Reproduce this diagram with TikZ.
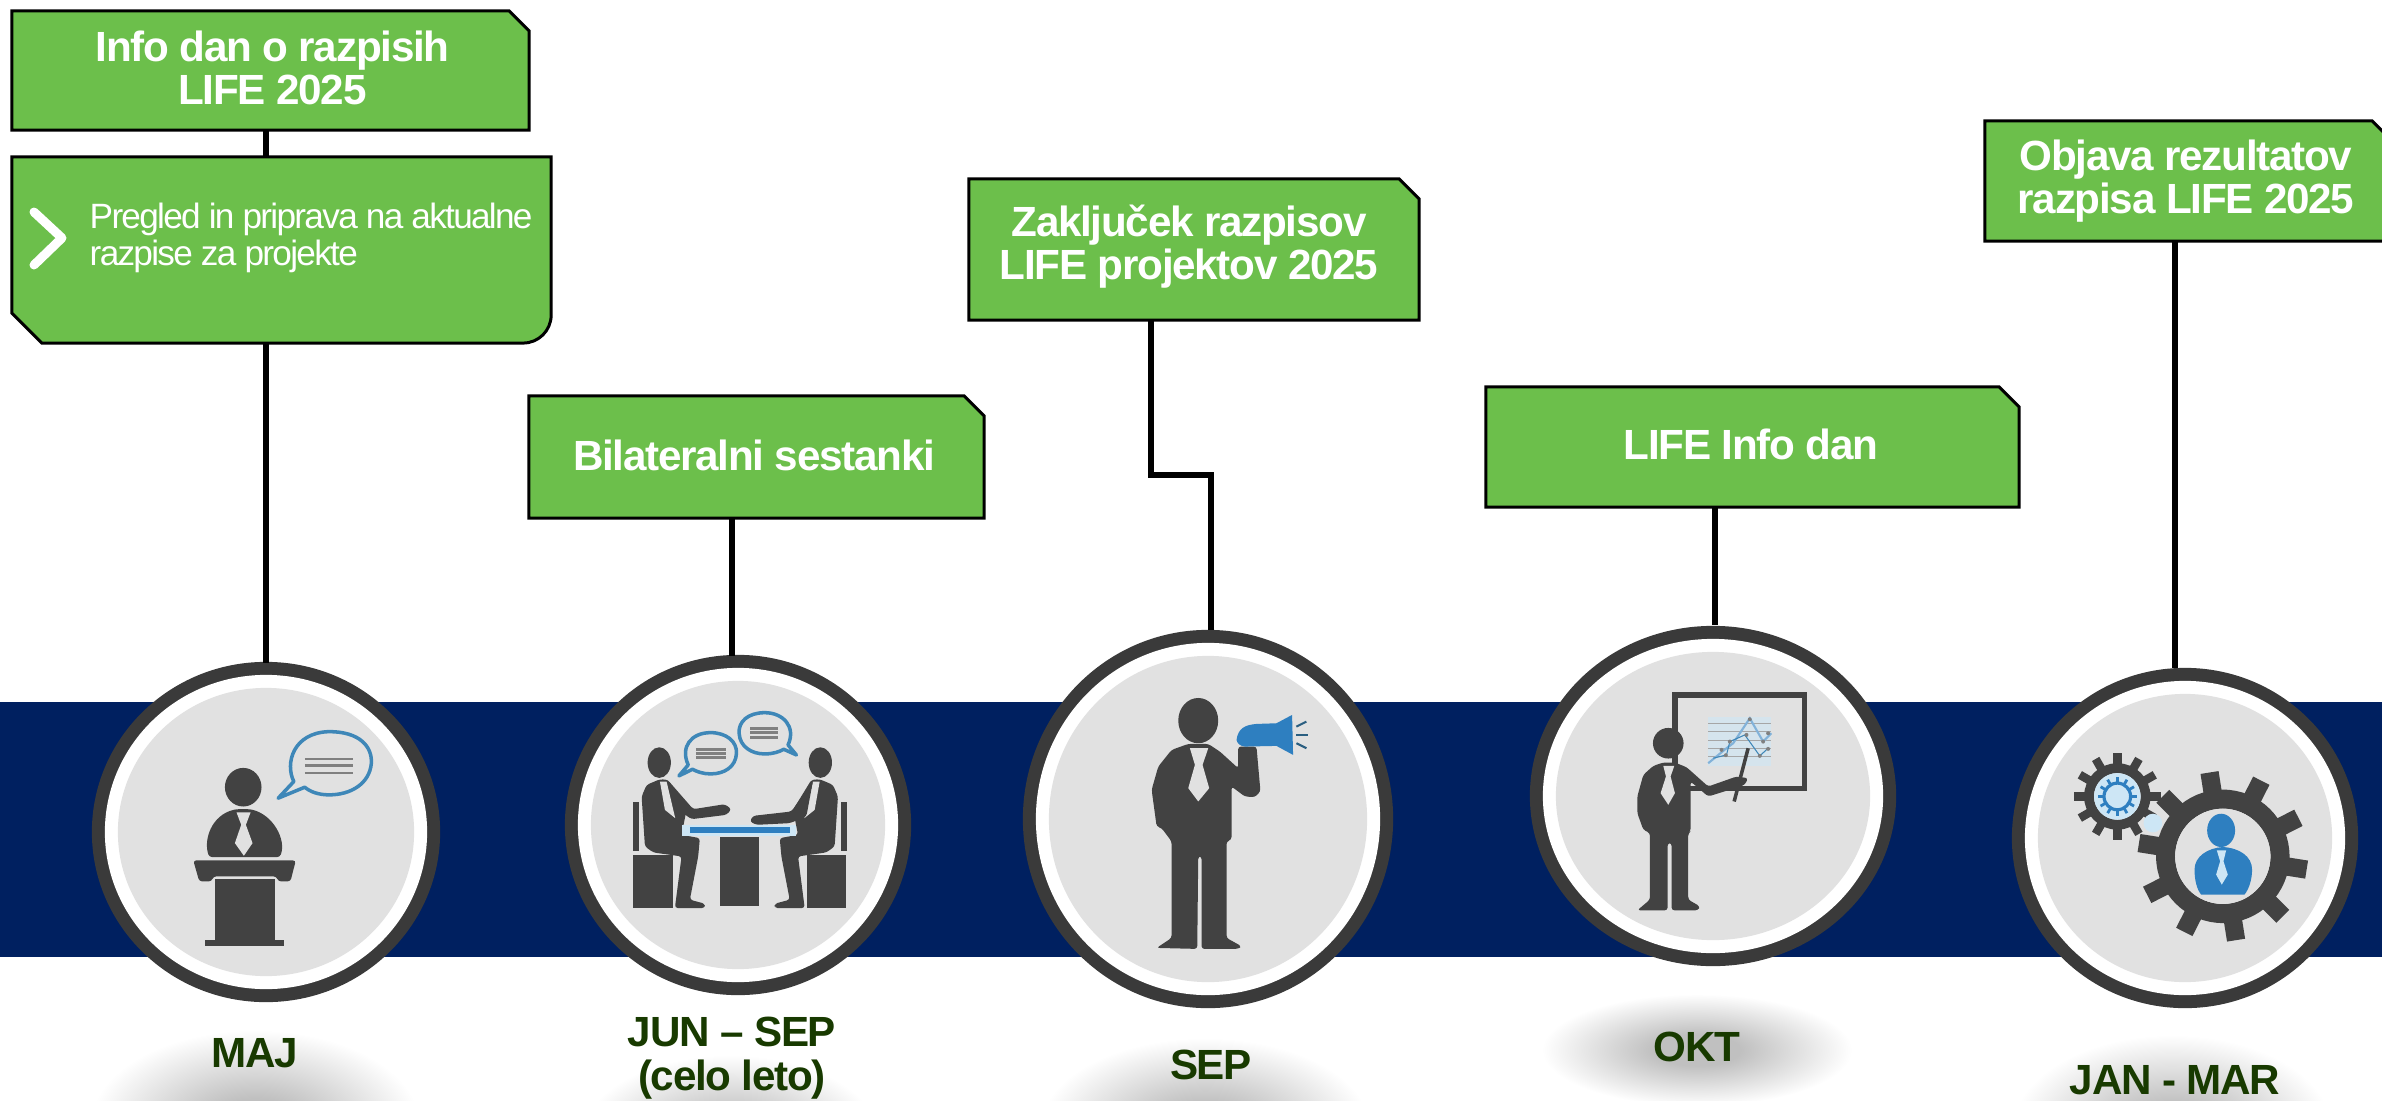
\documentclass[tikz,border=0pt]{standalone}
\usepackage{fontspec}
\setmainfont{Liberation Sans}[LetterSpace=-3]
\usepackage{xcolor}
\usetikzlibrary{shapes.geometric, calc}

\definecolor{lifegreen}{RGB}{108,191,75}
\definecolor{bandnavy}{RGB}{0,32,96}
\definecolor{ringdark}{RGB}{58,58,58}
\definecolor{podgrey}{RGB}{225,225,225}
\definecolor{icondark}{RGB}{66,66,66}
\definecolor{iconblue}{RGB}{46,127,192}
\definecolor{bubbleblue}{RGB}{62,135,184}
\definecolor{iconpale}{RGB}{205,230,245}
\definecolor{monthgreen}{RGB}{24,58,0}
\definecolor{shadowgrey}{RGB}{192,192,192}

\pgfdeclareradialshading{shadowfade}{\pgfpoint{0bp}{0bp}}{color(0bp)=(shadowgrey); color(7bp)=(shadowgrey); color(25bp)=(white); color(50bp)=(white)}

\tikzset{
    lifebox/.style={inner sep=0pt, outer sep=0pt},
    boxoutline/.style={fill=lifegreen, draw=black, line width=0.85pt},
    boxtext/.style={text=white, align=center, inner sep=0pt,
        font=\fontsize{12}{12.2}\selectfont\bfseries},
    stem/.style={draw=black, line width=1.7pt},
    podnode/.style={ellipse, inner sep=0pt, outer sep=0pt},
    monthlabel/.style={text=monthgreen, align=center, inner sep=0pt,
        font=\fontsize{12}{12.4}\selectfont\bfseries},
    icon/.style={fill=icondark, rounded corners=0.8pt},
    bubble/.style={draw=bubbleblue, line width=1pt, fill=podgrey, line join=round},
    bubbletext/.style={draw=gray, line width=0.7pt}
}

\begin{document}
\begin{tikzpicture}[x=0.01cm,y=-0.01cm]
    \useasboundingbox (0,0) rectangle (2382,1100);
    \clip (0,0) rectangle (2382,1100);

    % shadows under the months
    \foreach \sx/\sy/\srx/\sry in {255/1125/165/95, 730/1140/150/85, 1205/1128/165/90, 1697/1050/155/56, 2172/1130/160/95}
        \shade[shading=shadowfade] (\sx,\sy) ellipse [x radius=\srx, y radius=\sry];

    % band
    \fill[bandnavy] (0,702) rectangle (2382,957);

    % boxes
    \node[lifebox, minimum width=5.17cm, minimum height=1.19cm] (info) at (270.5,70.5) {};
    \node[lifebox, minimum width=4.55cm, minimum height=1.22cm] (bilat) at (756.5,457) {};
    \node[lifebox, minimum width=4.50cm, minimum height=1.41cm] (zakljucek) at (1194,249.5) {};
    \node[lifebox, minimum width=5.33cm, minimum height=1.20cm] (infodan) at (1752.5,447) {};
    \node[lifebox, minimum width=4.07cm, minimum height=1.20cm] (objava) at (2188.5,181) {};
    \node[lifebox, minimum width=5.39cm, minimum height=1.86cm] (pregled) at (281.5,250) {};
    \foreach \boxname in {info,bilat,zakljucek,infodan,objava}
        \draw[boxoutline] (\boxname.north west) -- ($(\boxname.north east)+(-20,0)$) -- ($(\boxname.north east)+(0,20)$)
            -- (\boxname.south east) -- (\boxname.south west) -- cycle;
    \draw[boxoutline]
        (pregled.north west) -- (pregled.north east)
        -- ($(pregled.south east)+(0,-28)$) arc [start angle=0, end angle=90, x radius=28, y radius=28]
        -- ($(pregled.south west)+(30,0)$) -- ($(pregled.south west)+(0,-30)$) -- cycle;
    \draw[white, line width=0.09cm, line cap=round, line join=round] (34,212) -- (62,238) -- (34,265);
    \node[boxtext] (infotext) at (272.5,67.5) {Info dan o razpisih\\LIFE 2025};
    \node[anchor=west, align=left, text=white, inner sep=0pt, font=\fontsize{10}{10.6}\selectfont\addfontfeatures{LetterSpace=-4.8}] (pregledtext) at (89,238) {Pregled in priprava na aktualne\\razpise za projekte};
    \node[boxtext] (bilattext) at (754,455.5) {Bilateralni sestanki};
    \node[boxtext] (zakljucektext) at (1189,246.5) {Zaključek razpisov\\LIFE projektov 2025};
    \node[boxtext] (infodantext) at (1751,444) {LIFE Info dan};
    \node[boxtext] (objavatext) at (2186,181) {Objava rezultatov\\razpisa LIFE 2025};

    % pods
    \foreach \podname/\cx/\cy/\rx/\ry in {maj/266/832/174/170, jun/738/825/173/170, sep/1208/819/185/189, okt/1713/796/183/170, jan/2185/838/173/170} {
        \node[podnode, fill=ringdark, minimum width=\rx*0.02cm, minimum height=\ry*0.02cm] (\podname) at (\cx,\cy) {};
        \node[podnode, fill=white, minimum width=(\rx-13)*0.02cm, minimum height=(\ry-13)*0.02cm] (\podname white) at (\cx,\cy) {};
        \node[podnode, fill=podgrey, minimum width=(\rx-26)*0.02cm, minimum height=(\ry-26)*0.02cm] (\podname grey) at (\cx,\cy) {};
    }

    % connectors
    \coordinate (majstem) at (266,663);
    \coordinate (junstem) at (732,656);
    \coordinate (sepbend) at (1151,475);
    \coordinate (sepstem) at (1211,630);
    \coordinate (oktstem) at (1715,625);
    \coordinate (janstem) at (2175,668);
    \draw[stem] (info.south -| majstem) -- (pregled.north -| majstem);
    \draw[stem] (pregled.south -| majstem) -- (majstem);
    \draw[stem] (bilat.south -| junstem) -- (junstem);
    \draw[stem] (zakljucek.south -| sepbend) -- (sepbend) -| (sepstem);
    \draw[stem] (infodan.south -| oktstem) -- (oktstem);
    \draw[stem] (objava.south -| janstem) -- (janstem);

    % speaker at the lectern
    \begin{scope}[shift={(170,700)},x=0.00333cm,y=-0.00333cm]
        \fill[icondark] (220,262) ellipse [x radius=55, y radius=58];
        \fill[icon] (118,472) .. controls (100,420) and (125,345) .. (200,328) -- (240,328) .. controls (310,345) and (350,420) .. (330,472) -- cycle;
        \fill[podgrey] (200,338) -- (242,338) -- (228,375) -- (248,430) -- (222,468) -- (195,430) -- (214,375) -- cycle;
        \fill[icon] (70,482) -- (378,482) -- (362,545) -- (325,545) -- (320,530) -- (130,530) -- (125,545) -- (88,545) -- cycle;
        \fill[icondark] (135,538) rectangle (315,722);
        \fill[icondark] (105,722) rectangle (342,738);
        \draw[bubble] (325,295) -- (372,245) .. controls (345,190) and (370,98) .. (478,95) .. controls (570,95) and (608,140) .. (605,190) .. controls (600,250) and (545,285) .. (478,285) .. controls (445,285) and (420,275) .. (405,262) -- cycle;
        \foreach \ly in {177,197,220}
            \draw[bubbletext] (405,\ly) -- (550,\ly);
    \end{scope}

    % two people at a table
    \begin{scope}[shift={(610,710)},x=0.00333cm,y=-0.00333cm]
        \foreach \mirror in {1,-1} {
            \begin{scope}[shift={(390,0)},xscale=\mirror,shift={(-390,0)}]
                \fill[icondark] (148,158) ellipse [x radius=35, y radius=46];
                \fill[icondark] (68,275) rectangle (86,425);
                \fill[icondark] (70,435) rectangle (188,595);
                \fill[icon] (95,260) -- (110,225) -- (150,208) -- (175,210) -- (230,300) -- (215,375) -- (270,385) -- (265,440) -- (240,570) -- (285,582) -- (285,595) -- (195,595) -- (215,440) -- (130,428) -- (105,410) -- cycle;
                \fill[podgrey] (150,215) -- (170,215) -- (196,325) -- (165,300) -- cycle;
            \end{scope}
        }
        \fill[icon] (175,212) -- (250,298) -- (345,283) -- (365,298) -- (350,315) -- (245,328) -- (205,300) -- cycle;
        \fill[icon] (610,212) -- (545,305) -- (430,318) -- (420,335) -- (440,345) -- (540,340) -- (590,320) -- cycle;
        \fill[iconpale] (215,345) rectangle (560,378);
        \fill[iconblue] (240,352) rectangle (540,370);
        \fill[icondark] (330,382) rectangle (448,590);
        \draw[bubble] (207,198) -- (235,165) .. controls (210,110) and (245,68) .. (302,68) .. controls (350,68) and (382,95) .. (380,130) .. controls (378,170) and (345,192) .. (302,192) .. controls (280,192) and (260,185) .. (248,178) -- cycle;
        \draw[bubble] (560,135) -- (535,105) .. controls (560,50) and (520,8) .. (465,8) .. controls (415,8) and (385,35) .. (388,70) .. controls (390,110) and (425,132) .. (465,132) .. controls (490,132) and (510,125) .. (522,118) -- cycle;
        \foreach \ly in {118,130,143}
            \draw[bubbletext] (258,\ly) -- (348,\ly);
        \foreach \ly in {55,68,82}
            \draw[bubbletext] (422,\ly) -- (505,\ly);
    \end{scope}

    % man with a megaphone
    \begin{scope}[shift={(1130,680)},x=0.00333cm,y=-0.00333cm]
        \fill[icondark] (205,122) ellipse [x radius=60, y radius=68];
        \fill[icon] (65,330) -- (85,260) -- (125,210) -- (175,192) -- (235,192) -- (270,215) -- (325,265) -- (325,200) -- (380,200) -- (392,335) -- (375,352) -- (345,350) -- (305,320) -- (305,480) -- (290,485) -- (290,775) -- (335,800) -- (325,808) -- (215,808) -- (215,530) -- (205,530) -- (202,808) -- (80,805) -- (125,775) -- (125,485) -- (95,445) -- (80,440) -- cycle;
        \fill[podgrey] (180,205) -- (235,205) -- (218,255) -- (238,325) -- (205,365) -- (175,325) -- (195,255) -- cycle;
        \fill[iconblue] (320,180) .. controls (325,145) and (345,135) .. (380,132) -- (440,130) -- (487,105) -- (490,225) -- (440,198) -- (345,200) .. controls (330,198) and (322,190) .. (320,180) -- cycle;
        \foreach \rx/\ry/\ex/\ey in {500/140/530/125, 500/165/535/165, 500/190/530/205}
            \draw[bubbleblue!70!black, line width=0.6pt] (\rx,\ry) -- (\ex,\ey);
    \end{scope}

    % man at the board
    \begin{scope}[shift={(1620,680)},x=0.00333cm,y=-0.00333cm]
        \draw[icondark, line width=1.5pt] (165,45) rectangle (555,325);
        \fill[iconpale!60!podgrey] (265,110) rectangle (455,258);
        \foreach \ly in {130,155,180,205,230}
            \draw[gray!70, line width=0.2pt] (265,\ly) -- (455,\ly);
        \draw[iconblue!60, line width=0.6pt] (265,250) -- (320,205) -- (340,190) -- (390,115) -- (430,185) -- (455,160);
        \draw[bubbleblue, line width=0.3pt] (280,235) -- (320,225) -- (330,185) -- (375,165) -- (420,228) -- (445,205);
        \foreach \dx/\dy in {305/210, 330/185, 390/118, 380/165, 420/228, 430/185, 445/160, 445/207, 318/226}
            \fill[gray] (\dx,\dy) circle [radius=6];
        \fill[icondark] (145,190) ellipse [x radius=46, y radius=46];
        \fill[icon] (52,350) -- (70,285) -- (100,258) -- (130,248) -- (165,248) -- (200,262) -- (265,320) -- (350,290) -- (385,295) -- (375,315) -- (345,325) -- (265,350) -- (212,305) -- (212,455) -- (205,460) -- (205,660) -- (240,680) -- (235,692) -- (155,692) -- (155,490) -- (143,490) -- (143,692) -- (52,692) -- (90,660) -- (90,460) -- (70,450) -- (52,400) -- cycle;
        \fill[podgrey] (130,258) -- (163,258) -- (152,290) -- (165,340) -- (145,375) -- (122,340) -- (138,290) -- cycle;
        \draw[icondark, line width=1pt] (385,205) -- (343,365);
    \end{scope}

    % gears
    \begin{scope}[shift={(1880,640)},x=0.00333cm,y=-0.00333cm]
        \foreach \k in {0,...,11}
            \draw[icondark, line width=2.4pt] ($(713,470)+(\k*30:80)$) -- ($(713,470)+(\k*30:130)$);
        \fill[iconpale] (820,550) circle [radius=28];
        \draw[icondark, line width=2.8pt] (713,470) circle [radius=85];
        \fill[iconpale] (713,470) circle [radius=70];
        \foreach \k in {0,...,11}
            \draw[iconblue, line width=0.8pt] ($(713,470)+(\k*30:40)$) -- ($(713,470)+(\k*30:58)$);
        \draw[iconblue, line width=0.9pt] (713,470) circle [radius=40];
        \foreach \k in {0,...,9}
            \draw[icondark, line width=5.2pt] ($(1030,650)+(9+\k*36:180)$) -- ($(1030,650)+(9+\k*36:255)$);
        \draw[icondark, line width=5.4pt] (1030,650) circle [radius=172];
        \fill[podgrey] (1030,650) circle [radius=143];
        \fill[iconblue] (1025,572) ellipse [x radius=42, y radius=50];
        \fill[iconblue] (945,690) .. controls (945,650) and (985,625) .. (1030,622) .. controls (1080,625) and (1118,650) .. (1118,690) .. controls (1118,720) and (1108,750) .. (1095,765) -- (965,765) .. controls (952,750) and (945,720) .. (945,690) -- cycle;
        \fill[iconpale] (1012,632) -- (1040,632) -- (1032,665) -- (1045,705) -- (1027,735) -- (1010,705) -- (1022,665) -- cycle;
    \end{scope}

    % months
    \node[monthlabel] (majlabel) at (255,1053) {MAJ};
    \node[monthlabel] (junlabel) at (732,1058) {JUN – SEP\\(celo leto)};
    \node[monthlabel] (seplabel) at (1211,1065) {SEP};
    \node[monthlabel] (oktlabel) at (1697,1047) {OKT};
    \node[monthlabel] (janlabel) at (2175,1080) {JAN - MAR};
\end{tikzpicture}
\end{document}
